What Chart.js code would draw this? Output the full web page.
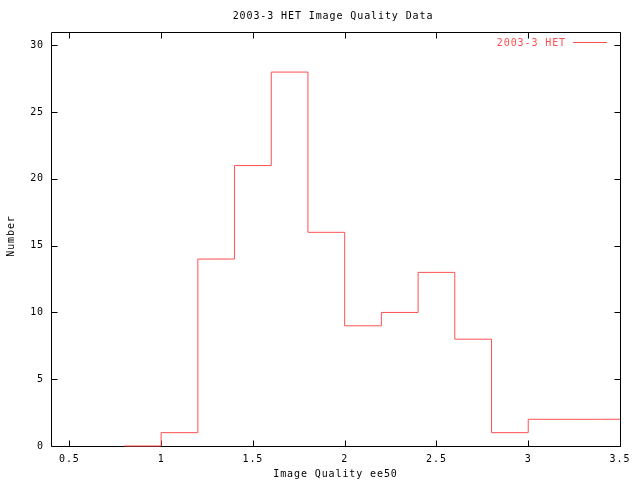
<!DOCTYPE html>
<html><head><meta charset="utf-8">
<script src="https://cdn.jsdelivr.net/npm/chart.js@4/dist/chart.umd.min.js"></script>
<style>html,body{margin:0;padding:0;background:#fff}#c{display:block}</style>
</head><body>
<canvas id="c" width="640" height="480"></canvas>
<script>
const binCenters = [0.9, 1.1, 1.3, 1.5, 1.7, 1.9, 2.1, 2.3, 2.5, 2.7, 2.9, 3.1, 3.3, 3.5];
const binCounts  = [0,   1,   14,  21,  28,  16,  9,   10,  13,  8,   1,   2,   2,   2];
const xTickValues = [0.5, 1, 1.5, 2, 2.5, 3, 3.5];
const yTickValues = [0, 5, 10, 15, 20, 25, 30];
const titleText = "2003-3 HET Image Quality Data";
const xTitle = "Image Quality ee50";
const yTitle = "Number";
const seriesName = "2003-3 HET";

const FONT = "'DejaVu Sans Mono', 'Liberation Mono', monospace";
const SPACING = '0.9px';
const RED = "rgb(255,80,80)";
const half = (binCenters[1] - binCenters[0]) / 2;
const stepPts = binCenters.map((c, i) => ({x: +(c - half).toFixed(3), y: binCounts[i]}));
stepPts.push({x: +(binCenters[binCenters.length-1] + half).toFixed(3), y: binCounts[binCounts.length-1]});

const framePlugin = {
  id: 'frame',
  beforeDraw(chart) {
    chart.ctx.letterSpacing = SPACING;
  },
  beforeDatasetsDraw(chart) {
    const ctx = chart.ctx, a = chart.chartArea;
    const xs = chart.scales.x, ys = chart.scales.y;
    const L = Math.round(a.left) + 0.5, R = Math.round(a.right) + 0.5;
    const T = Math.round(a.top) + 0.5, B = Math.round(a.bottom) + 0.5;
    ctx.save();
    ctx.strokeStyle = '#000'; ctx.lineWidth = 1;
    ctx.beginPath();
    ctx.rect(L, T, R - L, B - T);
    xs.ticks.forEach(t => {
      const px = Math.round(xs.getPixelForValue(t.value)) + 0.5;
      ctx.moveTo(px, B); ctx.lineTo(px, B - 6);
      ctx.moveTo(px, T); ctx.lineTo(px, T + 6);
    });
    ys.ticks.forEach(t => {
      const py = Math.round(ys.getPixelForValue(t.value)) + 0.5;
      ctx.moveTo(L, py); ctx.lineTo(L + 6, py);
      ctx.moveTo(R, py); ctx.lineTo(R - 6, py);
    });
    ctx.stroke();
    ctx.restore();
  },
  afterDraw(chart) {
    const ctx = chart.ctx, a = chart.chartArea;
    ctx.save();
    ctx.letterSpacing = SPACING;
    ctx.fillStyle = '#000';
    ctx.font = "10px " + FONT;
    ctx.textAlign = 'center'; ctx.textBaseline = 'middle';
    ctx.fillText(titleText, 333, 16);
    ctx.fillText(xTitle, 335.5, 474);
    ctx.save();
    ctx.translate(11, 236);
    ctx.rotate(-Math.PI / 2);
    ctx.fillText(yTitle, 0, 0);
    ctx.restore();
    // legend
    ctx.fillStyle = RED;
    ctx.textAlign = 'right';
    ctx.fillText(seriesName, 566, 43);
    ctx.strokeStyle = RED; ctx.lineWidth = 1;
    ctx.beginPath(); ctx.moveTo(573, 42.5); ctx.lineTo(607, 42.5); ctx.stroke();
    ctx.restore();
  }
};

new Chart(document.getElementById('c'), {
  type: 'line',
  data: {
    datasets: [{
      label: seriesName,
      data: stepPts,
      stepped: 'before',
      borderColor: RED,
      borderWidth: 1,
      pointRadius: 0,
      fill: false,
      clip: {left: 0, top: 0, right: 0, bottom: false}
    }]
  },
  options: {
    responsive: false,
    animation: false,
    devicePixelRatio: 1,
    layout: {padding: {top: 32, right: 20, left: 0, bottom: 0}},
    plugins: {legend: {display: false}, title: {display: false}, tooltip: {enabled: false}},
    scales: {
      x: {
        type: 'linear', min: 0.4, max: 3.5,
        afterBuildTicks: s => { s.ticks = xTickValues.map(v => ({value: v})); },
        afterFit: s => { s.height = 34; },
        grid: {display: false, drawTicks: false},
        border: {display: false},
        ticks: {color: '#000', font: {family: FONT, size: 10}, padding: 7, maxRotation: 0, autoSkip: false,
                callback: v => String(v)}
      },
      y: {
        type: 'linear', min: 0, max: 31,
        afterBuildTicks: s => { s.ticks = yTickValues.map(v => ({value: v})); },
        afterFit: s => { s.width = 51; },
        grid: {display: false, drawTicks: false},
        border: {display: false},
        ticks: {color: '#000', font: {family: FONT, size: 10}, padding: 7, autoSkip: false,
                callback: v => String(v)}
      }
    }
  },
  plugins: [framePlugin]
});
</script>
</body></html>
